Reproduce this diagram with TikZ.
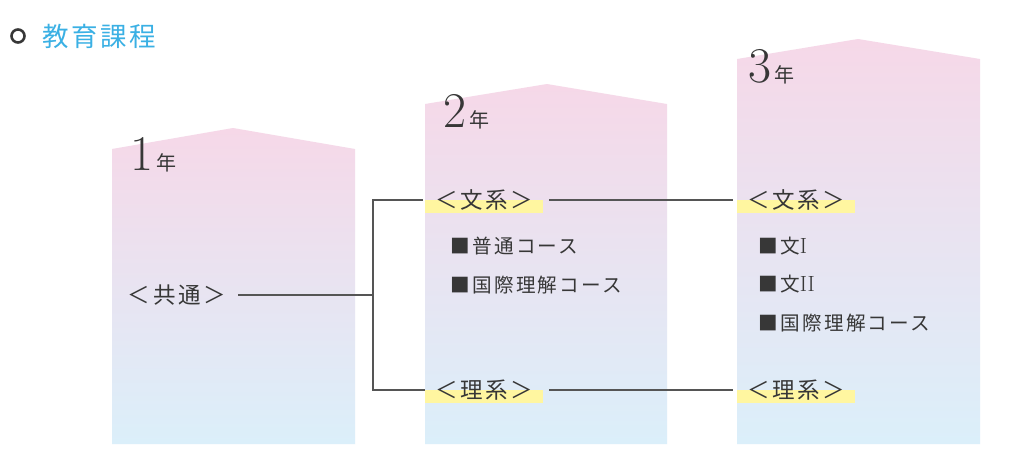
\documentclass[tikz,border=0pt]{standalone}
\usepackage{fontspec}
\usetikzlibrary{backgrounds}
\newfontfamily\cjk{Noto Sans CJK JP}[LetterSpace=12]
\newfontfamily\cjkt{Noto Sans CJK JP}[LetterSpace=10]
\newfontfamily\cjkn{Noto Sans CJK JP}
\definecolor{pk}{RGB}{246,216,232}
\definecolor{bl}{RGB}{219,239,250}
\definecolor{hl}{RGB}{255,246,160}
\definecolor{tx}{RGB}{55,55,55}
\definecolor{ln}{RGB}{85,85,85}
\definecolor{ttl}{RGB}{58,176,228}
\tikzset{
  col/.style={top color=pk, bottom color=bl, draw=none},
  hd/.style={inner sep=0pt, text=tx, font=\cjk\fontsize{22.5}{22.5}\selectfont},
  sel/.style={hd, minimum width=118pt, minimum height=26pt, anchor=west},
  item/.style={inner sep=0pt, anchor=west, text=tx, font=\cjk\fontsize{19.6}{19.6}\selectfont},
  yr/.style={inner sep=0pt, anchor=base west, text=tx},
  conn/.style={draw=ln, line width=1.2pt},
}
\newcommand{\yrtext}[1]{{\fontsize{50}{50}\selectfont #1}\hspace{3pt}{\cjkn\fontsize{20}{20}\selectfont 年}}
\begin{document}
\begin{tikzpicture}[x=1pt,y=-1pt]
\useasboundingbox (0,0) rectangle (1024,469);
% title
\node[circle, draw=tx, line width=2.6pt, minimum size=13pt, inner sep=0pt] (bullet) at (18,36) {};
\node[inner sep=0pt, anchor=west, text=ttl, font=\cjkt\fontsize{26.5}{26.5}\selectfont] (title) at (42,36) {教育課程};
% years
\node[yr] (y1) at (130,170) {\yrtext{1}};
\node[yr] (y2) at (443,127) {\yrtext{2}};
\node[yr] (y3) at (748,82) {\yrtext{3}};
% nodes
\node[hd] (kyo) at (177,295) {＜共通＞};
\node[sel] (bun2) at (425,200) {＜文系＞};
\node[sel] (ri2) at (425,390) {＜理系＞};
\node[sel] (bun3) at (737,200) {＜文系＞};
\node[sel] (ri3) at (737,390) {＜理系＞};
\begin{pgfonlayer}{background}
\fill[white] (0,0) rectangle (1024,469);
\shade[col] (112,444) -- (112,149) -- (233,128) -- (355,149) -- (355,444) -- cycle;
\shade[col] (425,444) -- (425,104) -- (547,84) -- (667,104) -- (667,444) -- cycle;
\shade[col] (737,444) -- (737,59) -- (858,39) -- (980,59) -- (980,444) -- cycle;
\fill[hl] (bun2.west) rectangle (bun2.south east);
\fill[hl] (ri2.west) rectangle (ri2.south east);
\fill[hl] (bun3.west) rectangle (bun3.south east);
\fill[hl] (ri3.west) rectangle (ri3.south east);
\end{pgfonlayer}
% items
\node[item] (a1) at (450,246) {■普通コース};
\node[item] (a2) at (450,285) {■国際理解コース};
\node[item] (b1) at (758,246) {■文{\rmfamily\fontsize{22}{22}\selectfont I}};
\node[item] (b2) at (758,284) {■文{\rmfamily\fontsize{22}{22}\selectfont II}};
\node[item] (b3) at (758,323) {■国際理解コース};
% connectors
\coordinate (j) at (373,295);
\draw[conn, shorten <=12pt] (kyo.east) -- (j);
\draw[conn, shorten <=2pt] (bun2.west) -| (j) |- (ri2.west);
\draw[conn, shorten <=6pt, shorten >=4pt] (bun2.east) -- (bun3.west);
\draw[conn, shorten <=6pt, shorten >=4pt] (ri2.east) -- (ri3.west);
\end{tikzpicture}
\end{document}
